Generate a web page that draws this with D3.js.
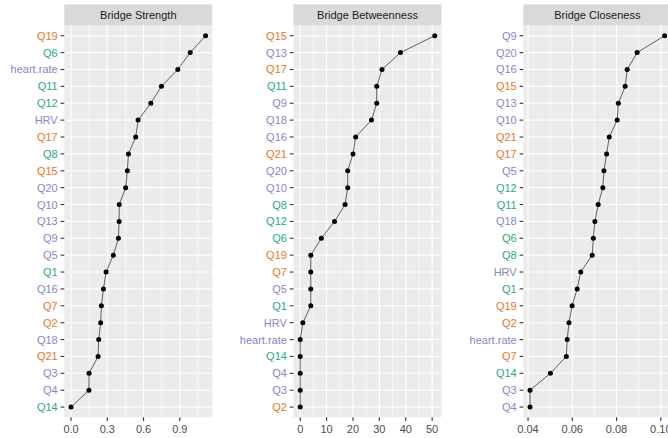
<!DOCTYPE html>
<html>
<head>
<meta charset="utf-8">
<script src="https://cdn.jsdelivr.net/npm/d3@7"></script>
<style>
  body { margin: 0; background: #fff; }
  text { font-family: "Liberation Sans", Arial, sans-serif; }
</style>
</head>
<body>
<div id="chart"></div>
<script>
// node groups (label colours)
const orangeNodes = ['Q19', 'Q17', 'Q15', 'Q7', 'Q2', 'Q21'];
const tealNodes = ['Q6', 'Q11', 'Q12', 'Q8', 'Q1', 'Q14'];
const purpleNodes = ['heart.rate', 'HRV', 'Q20', 'Q10', 'Q13', 'Q9', 'Q5', 'Q16', 'Q18', 'Q3', 'Q4'];

// panel titles
const panelTitles = ['Bridge Strength', 'Bridge Betweenness', 'Bridge Closeness'];

// bridge strength, top to bottom
const strengthNodes = ['Q19', 'Q6', 'heart.rate', 'Q11', 'Q12', 'HRV', 'Q17', 'Q8', 'Q15', 'Q20', 'Q10', 'Q13',
  'Q9', 'Q5', 'Q1', 'Q16', 'Q7', 'Q2', 'Q18', 'Q21', 'Q3', 'Q4', 'Q14'];
const strengthValues = [1.113, 0.986, 0.883, 0.748, 0.660, 0.555, 0.535, 0.475, 0.466, 0.452, 0.399, 0.398,
  0.392, 0.350, 0.290, 0.268, 0.251, 0.245, 0.229, 0.224, 0.149, 0.148, 0.0];
const strengthTicks = [0, 0.3, 0.6, 0.9];

// bridge betweenness
const betweennessNodes = ['Q15', 'Q13', 'Q17', 'Q11', 'Q9', 'Q18', 'Q16', 'Q21', 'Q20', 'Q10', 'Q8', 'Q12',
  'Q6', 'Q19', 'Q7', 'Q5', 'Q1', 'HRV', 'heart.rate', 'Q14', 'Q4', 'Q3', 'Q2'];
const betweennessValues = [51, 38, 31, 29, 29, 27, 21, 20, 18, 18, 17, 13,
  8, 4, 4, 4, 4, 1, 0, 0, 0, 0, 0];
const betweennessTicks = [0, 10, 20, 30, 40, 50];

// bridge closeness
const closenessNodes = ['Q9', 'Q20', 'Q16', 'Q15', 'Q13', 'Q10', 'Q21', 'Q17', 'Q5', 'Q12', 'Q11', 'Q18',
  'Q6', 'Q8', 'HRV', 'Q1', 'Q19', 'Q2', 'heart.rate', 'Q7', 'Q14', 'Q3', 'Q4'];
const closenessValues = [0.1017, 0.0893, 0.0848, 0.0839, 0.0808, 0.0803, 0.0767, 0.0755, 0.0743, 0.0738, 0.0717, 0.0702,
  0.0695, 0.0690, 0.0638, 0.0622, 0.0599, 0.0585, 0.0577, 0.0573, 0.0501, 0.0409, 0.0409];
const closenessTicks = [0.04, 0.06, 0.08, 0.10];

const width = 668, height = 438;
const panelLefts = [64.3, 293.5, 523.3];
const panelW = 148;
const stripTop = 4.4, panelTop = 25.6, panelBottom = 417.2;
const tickLen = 3.7;

const color = d3.scaleOrdinal()
  .domain([...orangeNodes, ...tealNodes, ...purpleNodes])
  .range([...orangeNodes.map(() => '#E8762C'), ...tealNodes.map(() => '#2BA784'), ...purpleNodes.map(() => '#8985C8')]);

const svg = d3.select('#chart')
  .append('svg')
  .attr('width', width)
  .attr('height', height);

function drawPanel(i, nodes, values, ticks, fmt) {
  const left = panelLefts[i];
  const g = svg.append('g');

  const lo = d3.min(values), hi = d3.max(values), pad = (hi - lo) * 0.05;
  const x = d3.scaleLinear()
    .domain([lo - pad, hi + pad])
    .range([left, left + panelW]);

  const y = d3.scalePoint()
    .domain(nodes)
    .range([panelTop, panelBottom])
    .padding(0.6);

  // strip
  g.append('rect')
    .attr('x', left).attr('y', stripTop)
    .attr('width', panelW).attr('height', panelTop - stripTop)
    .attr('fill', '#D9D9D9');
  g.append('text')
    .attr('x', left + panelW / 2).attr('y', (stripTop + panelTop) / 2 + 4)
    .attr('text-anchor', 'middle')
    .attr('font-size', 11)
    .attr('fill', '#1A1A1A')
    .text(panelTitles[i]);

  // panel background
  g.append('rect')
    .attr('x', left).attr('y', panelTop)
    .attr('width', panelW).attr('height', panelBottom - panelTop)
    .attr('fill', '#EBEBEB');

  // minor grid
  const step = ticks[1] - ticks[0];
  const minors = [ticks[0] - step / 2, ...ticks.map(t => t + step / 2)]
    .filter(v => v >= x.domain()[0] && v <= x.domain()[1]);
  g.selectAll('.minor')
    .data(minors)
    .join('line')
    .attr('x1', d => x(d)).attr('x2', d => x(d))
    .attr('y1', panelTop).attr('y2', panelBottom)
    .attr('stroke', '#fff').attr('stroke-width', 0.55);

  // major grid
  g.selectAll('.vmajor')
    .data(ticks)
    .join('line')
    .attr('x1', d => x(d)).attr('x2', d => x(d))
    .attr('y1', panelTop).attr('y2', panelBottom)
    .attr('stroke', '#fff').attr('stroke-width', 1.1);
  g.selectAll('.hmajor')
    .data(nodes)
    .join('line')
    .attr('x1', left).attr('x2', left + panelW)
    .attr('y1', d => y(d)).attr('y2', d => y(d))
    .attr('stroke', '#fff').attr('stroke-width', 1.1);

  // line + points
  const pts = nodes.map((n, k) => [x(values[k]), y(n)]);
  g.append('path')
    .attr('d', d3.line()(pts))
    .attr('fill', 'none')
    .attr('stroke', '#000')
    .attr('stroke-width', 0.6);
  g.selectAll('circle')
    .data(pts)
    .join('circle')
    .attr('cx', d => d[0]).attr('cy', d => d[1])
    .attr('r', 2.5)
    .attr('fill', '#000');

  // y axis ticks and labels
  g.selectAll('.ytick')
    .data(nodes)
    .join('line')
    .attr('x1', left - tickLen).attr('x2', left)
    .attr('y1', d => y(d)).attr('y2', d => y(d))
    .attr('stroke', '#333').attr('stroke-width', 1.1);
  g.selectAll('.ylab')
    .data(nodes)
    .join('text')
    .attr('x', left - tickLen - 2.9)
    .attr('y', d => y(d) + 4)
    .attr('text-anchor', 'end')
    .attr('font-size', 11)
    .attr('fill', d => color(d))
    .text(d => d);

  // x axis ticks and labels
  g.selectAll('.xtick')
    .data(ticks)
    .join('line')
    .attr('x1', d => x(d)).attr('x2', d => x(d))
    .attr('y1', panelBottom).attr('y2', panelBottom + tickLen)
    .attr('stroke', '#333').attr('stroke-width', 1.1);
  g.selectAll('.xlab')
    .data(ticks)
    .join('text')
    .attr('x', d => x(d))
    .attr('y', panelBottom + tickLen + 12.5)
    .attr('text-anchor', 'middle')
    .attr('font-size', 11)
    .attr('fill', '#4D4D4D')
    .text(d => fmt(d));
}

drawPanel(0, strengthNodes, strengthValues, strengthTicks, d3.format('.1f'));
drawPanel(1, betweennessNodes, betweennessValues, betweennessTicks, d3.format('d'));
drawPanel(2, closenessNodes, closenessValues, closenessTicks, d3.format('.2f'));
</script>
</body>
</html>
